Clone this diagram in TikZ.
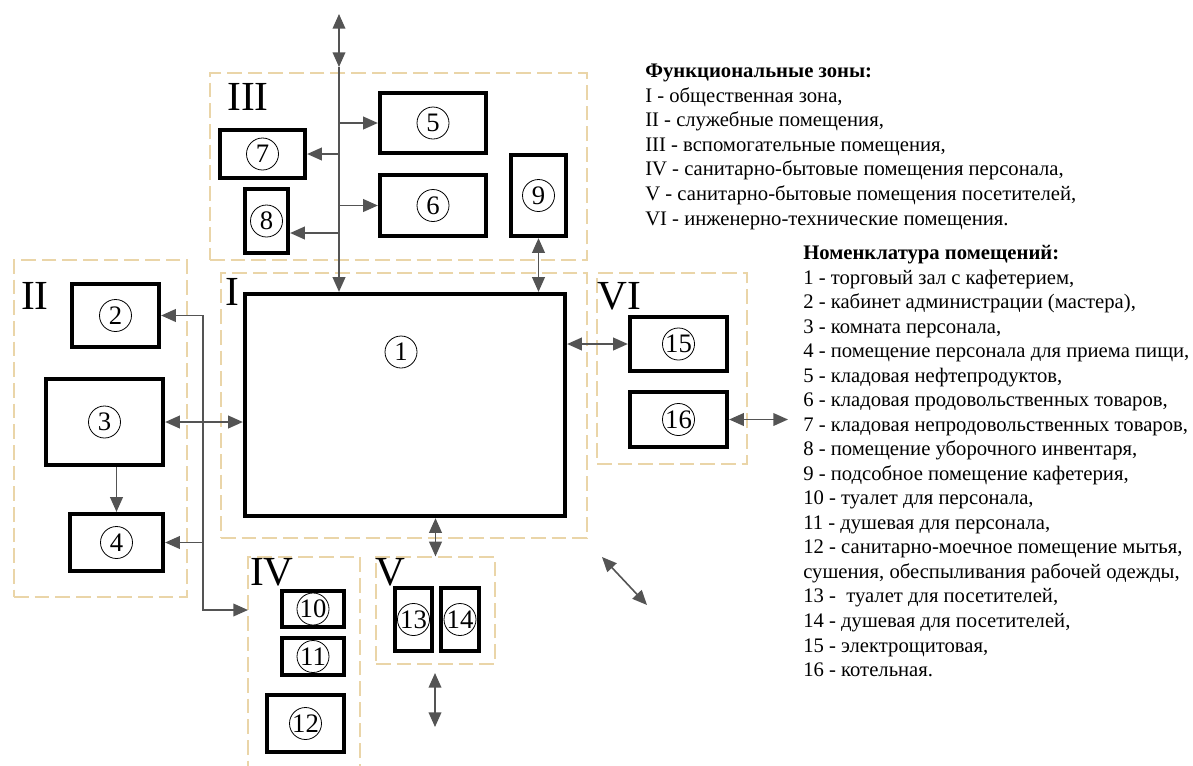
\documentclass[tikz,border=0pt]{standalone}
\usepackage{fontspec}
\setmainfont{Liberation Serif}
\usetikzlibrary{arrows.meta}
\definecolor{zoneline}{HTML}{EAD5A8}
\definecolor{arrgray}{HTML}{545454}

\begin{document}
\begin{tikzpicture}[x=0.75pt, y=-0.75pt,
  zone/.style 2 args={draw=zoneline, line width=0.9pt, dash pattern=on 11pt off 4.5pt, minimum width=#1*0.75pt, minimum height=#2*0.75pt, inner sep=0pt},
  room/.style 2 args={draw, line width=3.2pt, minimum width=#1*0.75pt, minimum height=#2*0.75pt, inner sep=0pt},
  num/.style={circle, draw, line width=0.6pt, minimum size=24pt, inner sep=0pt, font=\fontsize{20}{20}\selectfont},
  zlab/.style={inner sep=0pt, font=\fontsize{31}{31}\selectfont},
  arr/.style={-{Triangle[length=11pt,width=9.5pt]}, line width=1.2pt, arrgray},
  dbl/.style={{Triangle[length=11pt,width=9.5pt]}-{Triangle[length=11pt,width=9.5pt]}, line width=1.2pt, arrgray}]
\useasboundingbox (0,0) rectangle (1193,765);

% functional zones
\node[zone={366}{265}] at (404,405.5) (z1) {};
\node[zone={173}{337}] at (100.5,428.5) (z2) {};
\node[zone={377}{187}] at (398.5,166.5) (z3) {};
\node[zone={112}{213}] at (304,663.5) (z4) {};
\node[zone={119}{107}] at (435.5,610.5) (z5) {};
\node[zone={150}{191}] at (672,368.5) (z6) {};

\node[zlab] at (232,292) (l1) {I};
\node[zlab] at (35,296) (l2) {II};
\node[zlab] at (248,97) (l3) {III};
\node[zlab] at (272,572) (l4) {IV};
\node[zlab] at (390,572) (l5) {V};
\node[zlab] at (619,296) (l6) {VI};

% rooms
\node[room={320}{222}] at (405,405) (p1) {};
\node[num] at (401,352) (n1) {1};
\node[room={87}{63}, label={[num]center:2}] at (115.5,315.5) (p2) {};
\node[room={117}{86}, label={[num]center:3}] at (104.5,422) (p3) {};
\node[room={93}{57}, label={[num]center:4}] at (116.5,542.5) (p4) {};
\node[room={106}{60}, label={[num]center:5}] at (433,123) (p5) {};
\node[room={106}{61}, label={[num]center:6}] at (433,205.5) (p6) {};
\node[room={85}{48}, label={[num]center:7}] at (262.5,154) (p7) {};
\node[room={43}{64}, label={[num]center:8}] at (266.5,221) (p8) {};
\node[room={55}{81}, label={[num]center:9}] at (538.5,195.5) (p9) {};
\node[room={62}{36}, label={[num]center:10}] at (313,609) (p10) {};
\node[room={62}{37}, label={[num]center:11}] at (313,656.5) (p11) {};
\node[room={77}{57}, label={[num]center:12}] at (305.5,723.5) (p12) {};
\node[room={37}{63}, label={[num]center:13}] at (413.5,619.5) (p13) {};
\node[room={38}{63}, label={[num]center:14}] at (460,619.5) (p14) {};
\node[room={97}{54}, label={[num]center:15}] at (678.5,344) (p15) {};
\node[room={97}{55}, label={[num]center:16}] at (678.5,419.5) (p16) {};

% free ends
\coordinate (t1) at (339,14);
\coordinate (t2) at (339,67);
\coordinate (b8) at (339,233);
\coordinate (b2) at (203,315.5);
\coordinate (in4) at (248,610);
\coordinate (v1) at (435,673);
\coordinate (v2) at (435,727);
\coordinate (out16) at (788,419.5);
\coordinate (d1) at (602,557);
\coordinate (d2) at (647,605);

% links
\draw[dbl] (t1) -- (t2);
\draw[arr] (t2) -- (t2 |- p1.north);
\draw[arr] (p5.west -| t2) -- (p5.west);
\draw[arr] (p6.west -| t2) -- (p6.west);
\draw[arr] (p7.east -| t2) -- (p7.east);
\draw[arr] (b8) -- (b8 -| p8.east);
\draw[dbl] (p9.south) -- (p9.south |- p1.north);
\draw[dbl] (p2.east) -- (b2) |- (in4);
\draw[arr] (p4.east -| b2) -- (p4.east);
\draw[dbl] (p3.east) -- (p3.east -| p1.west);
\draw[arr] (p4.north |- p3.south) -- (p4.north);
\draw[dbl] (p15.west -| p1.east) -- (p15.west);
\draw[dbl] (p16.east) -- (out16);
\draw[dbl] (z5.north |- p1.south) -- (z5.north);
\draw[dbl] (v1) -- (v2);
\draw[dbl] (d1) -- (d2);

% legend
\node[anchor=north west, align=left, inner sep=0pt, font=\fontsize{15.5}{18.4}\selectfont] at (645,64) (legzones)
  {\textbf{Функциональные зоны:}\\
   I - общественная зона,\\
   II - служебные помещения,\\
   III - вспомогательные помещения,\\
   IV - санитарно-бытовые помещения персонала,\\
   V - санитарно-бытовые помещения посетителей,\\
   VI - инженерно-технические помещения.};
\node[anchor=north west, align=left, inner sep=0pt, font=\fontsize{15.5}{18.4}\selectfont] at (803,245) (legrooms)
  {\textbf{Номенклатура помещений:}\\
   1 - торговый зал с кафетерием,\\
   2 - кабинет администрации (мастера),\\
   3 - комната персонала,\\
   4 - помещение персонала для приема пищи,\\
   5 - кладовая нефтепродуктов,\\
   6 - кладовая продовольственных товаров,\\
   7 - кладовая непродовольственных товаров,\\
   8 - помещение уборочного инвентаря,\\
   9 - подсобное помещение кафетерия,\\
   10 - туалет для персонала,\\
   11 - душевая для персонала,\\
   12 - санитарно-моечное помещение мытья,\\
   сушения, обеспыливания рабочей одежды,\\
   13 - \ туалет для посетителей,\\
   14 - душевая для посетителей,\\
   15 - электрощитовая,\\
   16 - котельная.};
\end{tikzpicture}
\end{document}
